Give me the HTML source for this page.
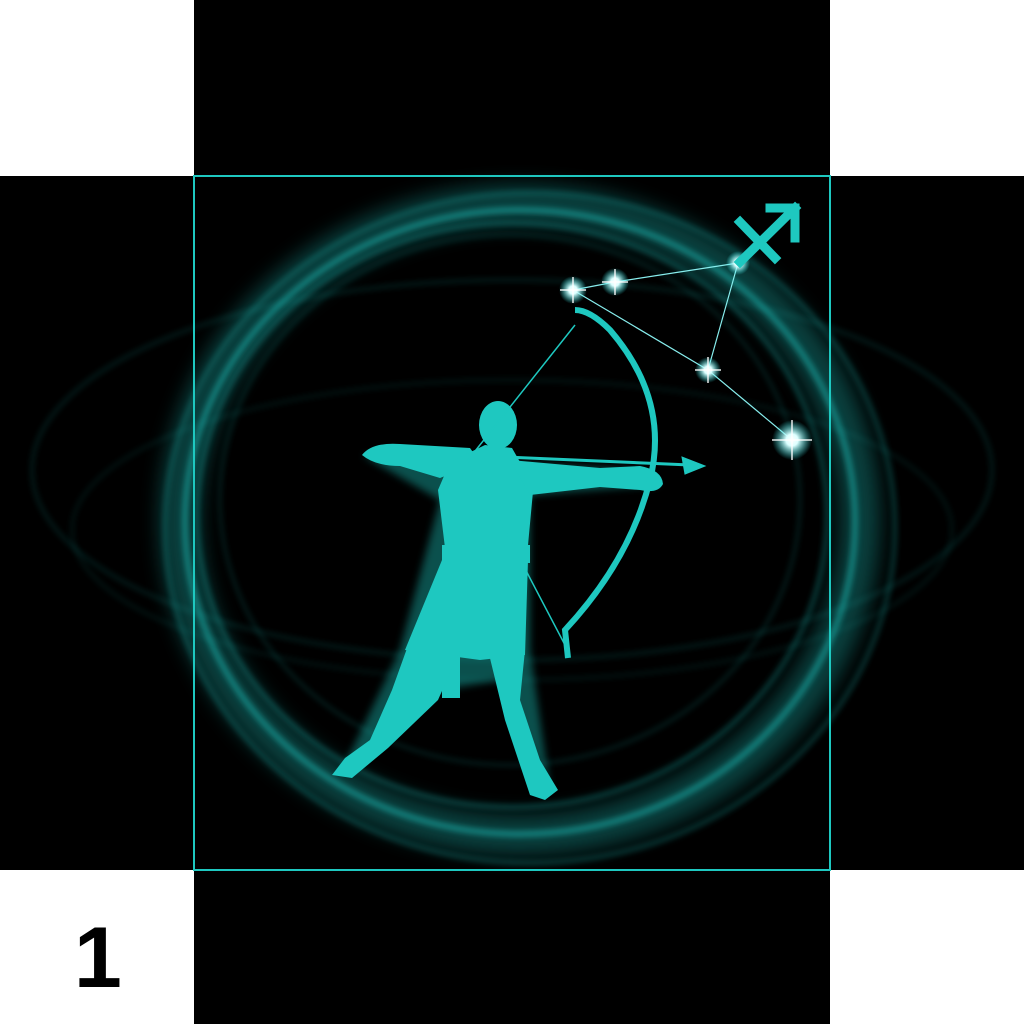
<!DOCTYPE html>
<html><head><meta charset="utf-8"><style>
html,body{margin:0;padding:0;width:1024px;height:1024px;overflow:hidden;background:#fff}
svg{display:block}
</style></head><body>
<svg width="1024" height="1024" viewBox="0 0 1024 1024" xmlns="http://www.w3.org/2000/svg">
<defs>
<filter id="glow" x="-30%" y="-30%" width="160%" height="160%"><feGaussianBlur stdDeviation="10"/></filter>
<filter id="glow3" x="-30%" y="-30%" width="160%" height="160%"><feGaussianBlur stdDeviation="3"/></filter>
<filter id="glow2" x="-50%" y="-50%" width="200%" height="200%"><feGaussianBlur stdDeviation="4"/></filter>
<radialGradient id="star"><stop offset="0" stop-color="#fff"/><stop offset="0.3" stop-color="#dff"/><stop offset="1" stop-color="#2ee" stop-opacity="0"/></radialGradient>
</defs>
<rect width="1024" height="1024" fill="#fff"/>
<rect x="194" y="0" width="636" height="1024" fill="#000"/>
<rect x="0" y="176" width="1024" height="694" fill="#000"/>
<g fill="none" stroke="#1cb8b2">
<ellipse cx="520" cy="520" rx="340" ry="315" stroke-width="40" opacity="0.35" filter="url(#glow)"/>
<ellipse cx="520" cy="522" rx="335" ry="312" stroke-width="6" opacity="0.55" filter="url(#glow3)"/>
<ellipse cx="512" cy="515" rx="315" ry="292" stroke-width="4" opacity="0.35" filter="url(#glow3)"/>
<ellipse cx="530" cy="528" rx="365" ry="335" stroke-width="4" opacity="0.3" filter="url(#glow3)"/>
<ellipse cx="510" cy="500" rx="290" ry="265" stroke-width="3" opacity="0.2" filter="url(#glow3)"/>
<ellipse cx="512" cy="470" rx="480" ry="190" stroke-width="4" opacity="0.15" filter="url(#glow3)"/>
<ellipse cx="512" cy="530" rx="440" ry="150" stroke-width="4" opacity="0.1" filter="url(#glow3)"/>
</g>
<rect x="194" y="176" width="636" height="694" fill="none" stroke="#1ec8c0" stroke-width="2"/>
<g>
<polyline points="573,290 615,282 738,263 708,370 792,440" fill="none" stroke="#8ee" stroke-width="1.2"/>
<line x1="573" y1="290" x2="708" y2="370" stroke="#8ee" stroke-width="1.2"/>
<g fill="url(#star)">
<circle cx="573" cy="290" r="14"/>
<circle cx="615" cy="282" r="14"/>
<circle cx="738" cy="263" r="12"/>
<circle cx="708" cy="370" r="13"/>
<circle cx="792" cy="440" r="20"/>
</g>
<g stroke="#fff" stroke-width="1.5" opacity="0.9">
<line x1="560" y1="290" x2="586" y2="290"/><line x1="573" y1="277" x2="573" y2="303"/>
<line x1="602" y1="282" x2="628" y2="282"/><line x1="615" y1="269" x2="615" y2="295"/>
<line x1="695" y1="370" x2="721" y2="370"/><line x1="708" y1="357" x2="708" y2="383"/>
<line x1="772" y1="440" x2="812" y2="440"/><line x1="792" y1="420" x2="792" y2="460"/>
</g>
</g>
<g stroke="#1ec8c0" stroke-width="9" fill="none" stroke-linecap="square">
<line x1="740" y1="262" x2="795" y2="208"/>
<polyline points="770,208 795,208 795,238"/>
<line x1="740" y1="222" x2="775" y2="258"/>
</g>
<g fill="#1ec8c0">
<g filter="url(#glow2)" opacity="0.4">
<path d="M362,455 L640,470 L660,485 L530,495 L530,650 L550,790 L500,680 L440,690 L340,775 L400,650 L440,500 Z"/>
</g>
<ellipse cx="498" cy="425" rx="19" ry="24"/>
<path d="M362,455 Q372,442 400,444 L470,448 L480,462 L440,478 L400,466 Q375,466 362,455 Z"/>
<path d="M485,445 L512,448 L520,462 L535,470 L528,545 L445,548 L438,490 L450,462 Z"/>
<path d="M510,460 L600,468 L640,466 Q662,470 663,484 Q658,494 640,490 L600,487 L530,495 Z"/>
<rect x="442" y="545" width="88" height="18"/>
<path d="M442,560 L528,560 L525,655 L480,660 L405,650 Z"/>
<rect x="442" y="610" width="18" height="88"/>
<path d="M410,640 L460,650 L438,700 L388,748 L352,778 L332,775 L345,758 L370,740 L392,690 Z"/>
<path d="M488,650 L525,650 L520,700 L540,760 L558,790 L545,800 L530,795 L505,720 Z"/>
</g>
<g fill="none" stroke="#1ec8c0">
<path d="M575,310 Q590,310 610,330 Q670,400 650,480 Q630,560 565,630 L568,658" stroke-width="6"/>
<line x1="575" y1="325" x2="468" y2="460" stroke-width="1.5"/>
<line x1="468" y1="460" x2="565" y2="645" stroke-width="1.5"/>
<line x1="460" y1="455" x2="690" y2="465" stroke-width="3"/>
<polygon points="705,466 682,457 685,474" fill="#1ec8c0"/>
</g>
<text x="74" y="987" font-family="Liberation Sans, sans-serif" font-size="86" font-weight="bold" fill="#000">1</text>
</svg>
</body></html>
